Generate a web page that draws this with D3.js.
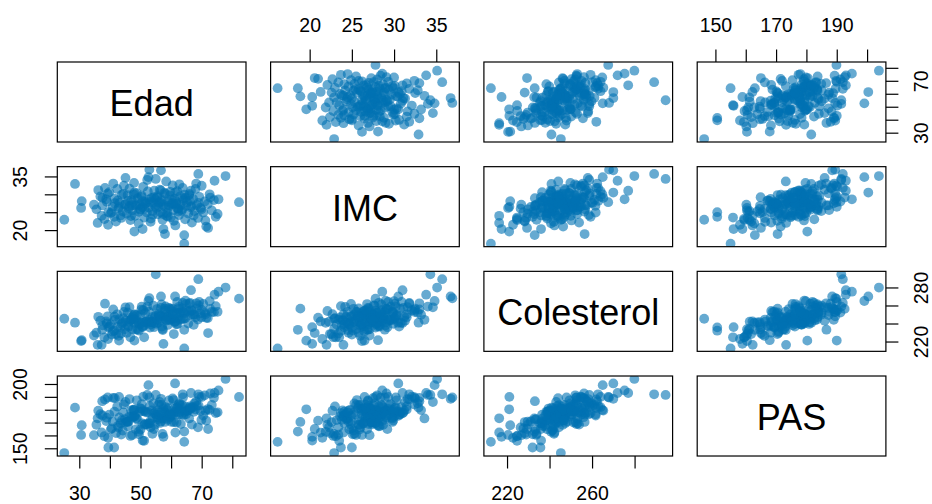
<!DOCTYPE html>
<html>
<head>
<meta charset="utf-8">
<script src="https://cdn.jsdelivr.net/npm/d3@7"></script>
<style>
  body { margin: 0; background: #ffffff; }
  svg { display: block; }
  text { font-family: "Liberation Sans", Arial, Helvetica, sans-serif; fill: #000; }
</style>
</head>
<body>
<svg id="chart" width="932" height="504"></svg>
<script>
// Variable names, in panel order
const variables = ["Edad", "IMC", "Colesterol", "PAS"];

// One value per subject, same order in every array
const edad = [
  35.6,36.9,38.2,39.0,39.8,40.3,40.9,41.5,42.0,42.4,42.8,43.1,43.5,43.9,44.2,44.6,44.9,36.2,37.5,39.4,41.1,42.6,43.7,44.4,40.6,38.8,
  45.2,45.5,45.8,46.1,46.4,46.7,47.0,47.3,47.6,47.9,48.2,48.5,48.8,49.1,49.4,49.7,50.0,50.3,50.6,50.9,51.2,51.5,51.8,52.1,52.4,52.7,53.0,53.3,53.6,53.9,54.2,54.5,54.8,45.9,46.9,47.8,48.6,49.5,50.4,51.3,52.2,53.1,54.0,54.7,46.3,48.0,49.9,51.6,53.4,54.4,47.2,50.7,
  55.1,55.4,55.7,56.0,56.3,56.6,56.9,57.2,57.5,57.8,58.1,58.4,58.7,59.0,59.3,59.6,59.9,60.2,60.5,60.8,61.1,61.4,61.7,62.0,62.3,62.6,62.9,63.2,63.5,63.8,64.1,64.6,64.9,55.6,56.4,57.3,58.2,59.1,60.0,60.9,61.8,62.7,63.6,64.4,55.9,57.0,58.5,59.7,61.2,62.4,63.9,56.7,58.9,60.6,62.1,64.7,
  65.2,65.6,66.0,66.4,66.8,67.2,67.6,68.0,68.4,68.8,69.2,69.6,70.0,70.5,71.0,71.5,72.0,72.6,73.3,74.0,74.6,65.9,66.6,67.4,68.2,69.0,69.9,71.2,72.8,66.2,
  25.1,28.6,30.8,30.6,34.8,38.4,37.3,45.1,52.9,56.7,55.0,68.9,77.8,82.2,64.3,64.3,75.2,72.1,50.7,57.5,61.3,39.5,41.4,48.0,37.6,39.3,41.6,43.0,36.0,58.0,75.5,74.2,66.5,52.6
];
const imc = [
  25.8,29.4,23.1,27.9,30.6,24.7,26.5,28.8,22.4,31.5,26.0,27.6,24.1,29.9,25.2,32.4,27.1,31.2,26.9,21.5,33.0,28.3,23.4,30.1,25.0,28.6,
  27.3,24.6,29.8,26.1,31.6,22.8,28.4,25.5,27.9,33.2,24.0,26.8,30.3,28.9,21.9,27.0,25.9,29.3,26.4,32.1,23.5,28.0,27.5,24.9,30.8,26.3,28.6,22.3,29.0,25.3,27.7,31.0,26.7,28.2,23.9,30.0,27.2,25.1,29.6,26.0,34.0,27.8,24.3,28.7,26.6,30.5,25.7,27.4,23.2,29.2,26.9,28.1,
  26.2,29.1,24.4,27.6,31.3,25.0,28.5,22.9,27.1,30.4,26.5,33.6,24.8,28.0,26.9,29.7,23.6,27.3,32.5,25.6,28.8,21.3,27.9,30.9,26.0,24.2,29.4,27.0,25.4,31.8,28.3,23.0,26.8,29.5,27.7,24.5,30.2,26.3,28.6,22.6,27.4,32.8,25.8,29.9,26.6,28.1,24.0,30.7,27.2,25.2,28.9,31.1,23.8,27.5,26.1,29.0,
  27.8,24.6,30.1,26.4,22.1,28.7,25.3,31.5,27.0,23.4,29.3,26.2,32.4,24.9,28.0,21.0,27.3,30.0,25.5,28.4,23.7,29.8,26.7,24.1,33.0,27.6,25.8,22.7,29.1,28.2,
  22.9,32.9,28.1,26.2,27.1,31.8,24.0,34.6,36.9,36.7,34.3,35.7,35.1,27.8,16.2,18.6,24.5,20.6,20.3,20.3,30.5,25.0,23.7,19.6,29.0,30.2,27.5,26.5,22.0,18.9,28.6,33.8,31.0,34.8
];
const colesterol = [
  229.8,243.1,224.6,240.2,236.5,238.9,231.2,247.6,228.3,250.2,226.4,244.8,236.0,239.7,241.3,252.9,233.7,247.4,233.1,222.8,255.7,236.7,229.0,245.9,227.7,242.4,
  243.3,229.7,252.2,236.4,258.2,224.8,244.4,233.7,248.2,249.8,250.0,233.4,249.4,233.1,240.7,239.0,241.4,255.5,236.5,254.7,224.7,251.7,242.1,242.5,240.9,253.2,243.6,242.0,241.2,242.1,259.7,240.5,248.2,237.7,243.8,244.6,243.2,232.1,258.7,237.9,258.7,235.4,247.2,246.2,242.2,240.7,249.2,241.7,238.9,235.9,246.1,240.9,
  239.6,256.0,240.7,249.4,243.1,248.3,261.1,233.9,247.5,249.1,254.3,244.1,247.3,247.3,257.3,243.7,246.8,244.6,256.4,253.0,245.8,242.3,239.2,264.0,247.1,258.5,244.4,252.6,245.1,262.8,245.1,245.9,261.6,244.6,247.5,232.8,258.9,244.6,255.0,228.3,251.3,252.0,256.7,251.5,251.0,236.6,243.3,256.6,241.5,256.3,252.6,257.3,238.4,250.6,239.5,265.3,
  254.3,239.9,261.9,249.3,253.9,249.7,249.8,247.0,256.8,244.4,264.0,251.3,255.0,261.7,252.1,246.4,246.1,264.8,252.8,252.6,259.3,253.1,254.8,238.5,262.4,260.2,247.0,250.3,256.2,263.0,
  245.3,240.9,221.5,220.5,226.7,262.0,216.3,258.0,268.0,270.0,294.6,289.2,279.9,267.6,212.4,233.0,253.0,229.4,236.0,217.4,270.0,235.7,232.0,221.0,238.0,248.0,244.0,221.1,216.3,256.5,275.3,272.0,277.0,265.0
];
const pas = [
  168.3,176.5,159.4,173.8,176.2,164.7,170.9,178.4,161.8,182.5,166.2,174.0,169.5,171.6,163.8,184.1,172.7,179.3,186.6,158.1,189.2,167.4,160.6,177.9,165.5,171.2,
  170.2,170.8,170.5,170.9,188.3,159.6,174.6,160.4,179.9,179.7,174.7,164.7,187.3,172.2,162.8,178.3,164.6,180.7,169.4,190.2,155.8,178.7,177.9,168.5,178.1,169.4,182.8,166.4,179.4,161.3,185.0,177.2,177.9,167.1,179.5,174.6,173.3,160.8,184.3,168.3,191.5,169.4,173.6,168.2,174.6,175.2,181.2,168.7,171.9,164.9,173.7,178.9,
  176.2,174.2,172.6,176.1,186.0,170.9,183.7,161.2,181.2,178.5,177.6,173.2,179.9,175.3,187.2,174.0,174.8,170.5,188.8,187.5,178.3,162.2,178.4,182.0,183.7,176.4,183.5,168.8,176.3,192.0,175.8,182.6,176.4,179.4,169.7,173.2,182.0,181.3,176.2,170.4,170.1,185.0,183.5,178.3,184.0,173.1,175.3,176.3,181.0,177.8,189.6,177.8,172.1,176.2,180.9,179.3,
  179.2,179.3,181.3,180.5,168.4,181.9,184.9,180.2,183.1,166.3,190.0,179.2,189.8,175.4,191.2,171.5,180.5,179.8,183.7,189.3,177.4,173.2,181.6,178.4,186.5,183.2,172.0,179.2,192.6,182.5,
  146.3,181.6,167.9,160.4,160.2,188.0,162.3,186.0,189.5,188.5,191.5,192.0,203.9,189.9,155.0,163.0,178.0,165.0,156.0,158.9,200.4,150.6,150.6,180.3,175.5,189.5,189.0,190.0,173.3,170.5,195.0,193.0,193.0,199.1
];

// Tick values and the labels drawn on each outer side
const edadTicks = [30, 40, 50, 60, 70, 80];
const edadLabelsRight = [30, 70];
const edadLabelsBottom = [30, 50, 70];
const imcTicks = [20, 25, 30, 35];
const imcLabelsTop = [20, 25, 30, 35];
const imcLabelsLeft = [20, 35];
const colTicks = [220, 240, 260, 280];
const colLabelsRight = [220, 280];
const colLabelsBottom = [220, 260];
const pasTicks = [150, 160, 170, 180, 190, 200];
const pasLabelsTop = [150, 170, 190];
const pasLabelsLeft = [150, 200];

const columns = [edad, imc, colesterol, pas];
const tickSets = [edadTicks, imcTicks, colTicks, pasTicks];

// Grid geometry
const left0 = 57.3, colPitch = 213.3, panelW = 188.7;
const top0 = 62, rowPitch = 104.67, panelH = 80;
const tickLen = 12.5;
const pointColor = "#0072B2";

const svg = d3.select("#chart");

// Each variable gets its range widened by 4% on both sides
const domains = columns.map(v => {
  const [lo, hi] = d3.extent(v);
  const pad = (hi - lo) * 0.04;
  return [lo - pad, hi + pad];
});
const xScales = domains.map(d => d3.scaleLinear().domain(d).range([0, panelW]));
const yScales = domains.map(d => d3.scaleLinear().domain(d).range([panelH, 0]));

const n = variables.length;
const defs = svg.append("defs");
defs.append("clipPath").attr("id", "panel-clip")
  .append("rect").attr("x", 0).attr("y", 0).attr("width", panelW).attr("height", panelH);

for (let i = 0; i < n; i++) {        // row
  for (let j = 0; j < n; j++) {      // column
    const g = svg.append("g")
      .attr("transform", `translate(${left0 + j * colPitch},${top0 + i * rowPitch})`);

    if (i === j) {
      g.append("text")
        .attr("x", panelW / 2)
        .attr("y", panelH / 2 + 14)
        .attr("text-anchor", "middle")
        .style("font-size", "36px")
        .text(variables[i]);
    } else {
      const xs = xScales[j], ys = yScales[i];
      const xv = columns[j], yv = columns[i];
      g.append("g").attr("clip-path", "url(#panel-clip)")
        .selectAll("circle")
        .data(d3.range(xv.length))
        .join("circle")
        .attr("cx", k => xs(xv[k]))
        .attr("cy", k => ys(yv[k]))
        .attr("r", 4.9)
        .attr("fill", pointColor)
        .attr("fill-opacity", 0.6);
    }

    g.append("rect")
      .attr("x", 0).attr("y", 0)
      .attr("width", panelW).attr("height", panelH)
      .attr("fill", "none")
      .attr("stroke", "#000")
      .attr("stroke-width", 1.2);
  }
}

// Outer axes, alternating sides like a scatterplot matrix
function topAxis(j, labels) {
  const g = svg.append("g")
    .attr("transform", `translate(${left0 + j * colPitch},${top0})`);
  const ax = d3.axisTop(xScales[j]).tickValues(tickSets[j]).tickSizeOuter(0)
    .tickSize(tickLen).tickFormat(d => labels.includes(d) ? d : "");
  g.call(ax);
  styleAxis(g);
  g.selectAll(".tick text").attr("y", -29.7).attr("dy", 0);
}
function bottomAxis(j, labels) {
  const g = svg.append("g")
    .attr("transform", `translate(${left0 + j * colPitch},${top0 + (n - 1) * rowPitch + panelH})`);
  const ax = d3.axisBottom(xScales[j]).tickValues(tickSets[j]).tickSizeOuter(0)
    .tickSize(tickLen).tickFormat(d => labels.includes(d) ? d : "");
  g.call(ax);
  styleAxis(g);
  g.selectAll(".tick text").attr("y", 43.6).attr("dy", 0);
}
function leftAxis(i, labels) {
  const g = svg.append("g")
    .attr("transform", `translate(${left0},${top0 + i * rowPitch})`);
  const ax = d3.axisLeft(yScales[i]).tickValues(tickSets[i]).tickSizeOuter(0)
    .tickSize(tickLen).tickFormat(d => labels.includes(d) ? d : "");
  g.call(ax);
  styleAxis(g);
  g.selectAll(".tick text")
    .attr("x", null).attr("y", null).attr("dy", 0)
    .attr("text-anchor", "middle")
    .attr("transform", `translate(${26.7 - left0},0) rotate(-90)`);
}
function rightAxis(i, labels) {
  const edge = left0 + (n - 1) * colPitch + panelW;
  const g = svg.append("g")
    .attr("transform", `translate(${edge},${top0 + i * rowPitch})`);
  const ax = d3.axisRight(yScales[i]).tickValues(tickSets[i]).tickSizeOuter(0)
    .tickSize(tickLen).tickFormat(d => labels.includes(d) ? d : "");
  g.call(ax);
  styleAxis(g);
  g.selectAll(".tick text")
    .attr("x", null).attr("y", null).attr("dy", 0)
    .attr("text-anchor", "middle")
    .attr("transform", `translate(${927.6 - edge},0) rotate(-90)`);
}
function styleAxis(g) {
  g.select(".domain").remove();
  g.selectAll(".tick line").attr("stroke", "#000").attr("stroke-width", 1.2);
  g.selectAll(".tick text")
    .style("font-size", "19.5px")
    .style("font-family", "'Liberation Sans', Arial, Helvetica, sans-serif")
    .attr("fill", "#000");
}

topAxis(1, imcLabelsTop);
topAxis(3, pasLabelsTop);
rightAxis(0, edadLabelsRight);
rightAxis(2, colLabelsRight);
leftAxis(1, imcLabelsLeft);
leftAxis(3, pasLabelsLeft);
bottomAxis(0, edadLabelsBottom);
bottomAxis(2, colLabelsBottom);
</script>
</body>
</html>
